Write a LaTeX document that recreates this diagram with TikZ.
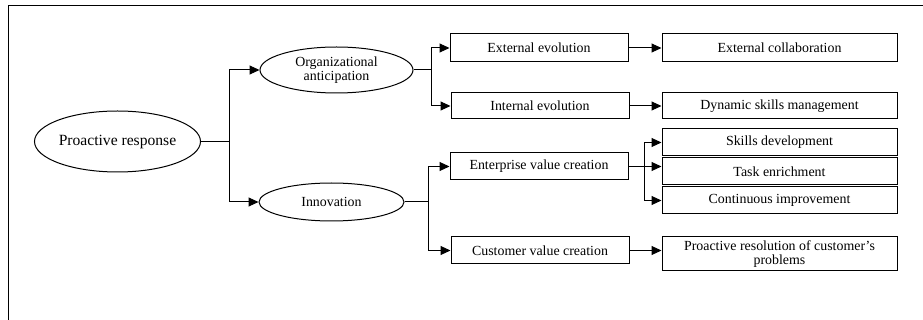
\documentclass[tikz,border=0pt]{standalone}
\usepackage{fontspec}
\setmainfont{Liberation Serif}
\usetikzlibrary{shapes.geometric,arrows.meta}
\begin{document}
\begin{tikzpicture}[x=1pt,y=-1pt,
  every path/.style={line width=1pt},
  ell/.style={draw,ellipse,inner sep=0pt,align=center,font=\fontsize{13.9}{14.5}\selectfont},
  bx/.style={draw,rectangle,inner sep=0pt,align=center,font=\fontsize{13.9}{14.5}\selectfont},
  arr/.style={-{Triangle[length=10pt,width=9pt]}}]
\useasboundingbox (0,0) rectangle (923,320);
\draw (8,320) -- (8,6) -- (923,6);
% ellipses
\node[ell,minimum width=165,minimum height=61,font=\fontsize{15.6}{16}\selectfont] (pr) at (117.5,141.5) {Proactive response};
\node[ell,minimum width=153,minimum height=46] (oa) at (336.5,70) {Organizational\\anticipation};
\node[ell,minimum width=145,minimum height=38] (inn) at (331.5,202) {Innovation};
% boxes
\node[bx,minimum width=178,minimum height=28] (ee) at (539,48) {External evolution};
\node[bx,minimum width=235,minimum height=28] (ec) at (779.5,48) {External collaboration};
\node[bx,minimum width=178,minimum height=26] (ie) at (540,106) {Internal evolution};
\node[bx,minimum width=235,minimum height=26] (dsm) at (779.5,106) {Dynamic skills management};
\node[bx,minimum width=235,minimum height=27] (sd) at (779.5,142.5) {Skills development};
\node[bx,minimum width=235,minimum height=27] (te) at (779.5,171.5) {Task enrichment};
\node[bx,minimum width=235,minimum height=27] (ci) at (779.5,200.5) {Continuous improvement};
\node[bx,minimum width=178,minimum height=27] (evc) at (539,166.5) {Enterprise value creation};
\node[bx,minimum width=178,minimum height=27] (cvc) at (540,250.5) {Customer value creation};
\node[bx,minimum width=235,minimum height=34] (prc) at (779.5,254) {Proactive resolution of customer's\\problems};
% junctions
\coordinate (j1) at (229,141.5);
\coordinate (j2) at (431,70);
\coordinate (j3) at (428,202);
\coordinate (j4) at (644,166.5);
% connectors
\draw (pr.east) -- (j1);
\draw[arr] (j1) |- (oa.west);
\draw[arr] (j1) |- (inn.west);
\draw (oa.east) -- (j2);
\draw[arr] (j2) |- (ee.west);
\draw[arr] (j2) |- (ie.west);
\draw (inn.east) -- (j3);
\draw[arr] (j3) |- (evc.west);
\draw[arr] (j3) |- (cvc.west);
\draw[arr] (ee.east) -- (ec.west);
\draw[arr] (ie.east) -- (dsm.west);
\draw[arr] (evc.east) -- (te.west |- evc.east);
\draw[arr] (j4) |- (sd.west);
\draw[arr] (j4) |- (ci.west);
\draw[arr] (cvc.east) -- (prc.west |- cvc.east);
\end{tikzpicture}
\end{document}
